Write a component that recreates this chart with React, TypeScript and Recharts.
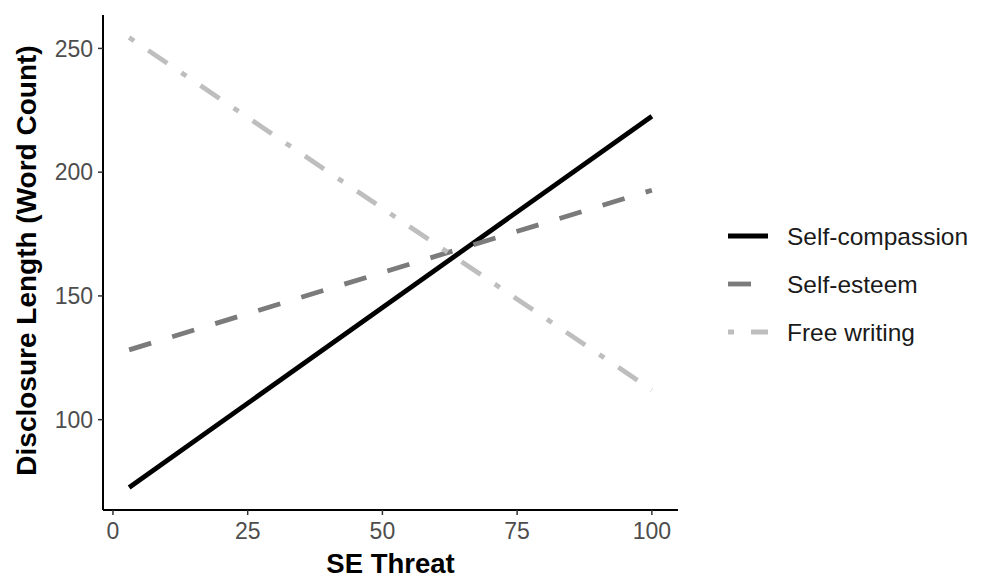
import React from "react";
import { LineChart, Line, XAxis, YAxis, Legend, Label } from "recharts";

const threat = [3, 100];
const selfCompassion = [72.6, 222.6];
const selfEsteem = [128.2, 192.7];
const freeWriting = [254.4, 112];
const xTicks = [0, 25, 50, 75, 100];
const yTicks = [100, 150, 200, 250];

const seriesNames = ["Self-compassion", "Self-esteem", "Free writing"];
const seriesKeys = ["sc", "se", "fw"];
const seriesColors = ["#000000", "#7b7b7b", "#bebebe"];
const seriesDash = ["", "23 22", "6 17 23 17"];

const data = threat.map((x, i) => ({
  x,
  sc: selfCompassion[i],
  se: selfEsteem[i],
  fw: freeWriting[i],
}));

const FONT = '"Liberation Sans", Arial, Helvetica, sans-serif';

const LegendContent = () => (
  <svg width={262} height={150} style={{ display: "block" }}>
    {seriesNames.map((name, i) => {
      const cy = 26 + i * 48;
      return (
        <g key={name}>
          <line
            x1={8}
            x2={48}
            y1={cy}
            y2={cy}
            stroke={seriesColors[i]}
            strokeWidth={4.8}
            strokeDasharray={seriesDash[i] || undefined}
            strokeLinecap="butt"
          />
          <text
            x={67}
            y={cy}
            dominantBaseline="central"
            fontFamily={FONT}
            fontSize={24.5}
            fill="#1a1a1a"
          >
            {name}
          </text>
        </g>
      );
    })}
  </svg>
);

const YTitle = (props: any) => {
  const vb = props.viewBox || {};
  const cx = 28;
  const cy = vb.y + vb.height / 2 - 2;
  return (
    <text
      x={cx}
      y={cy}
      transform={`rotate(-90, ${cx}, ${cy})`}
      textAnchor="middle"
      fontFamily={FONT}
      fontWeight="bold"
      fontSize={28}
      fill="#000"
    >
      Disclosure Length (Word Count)
    </text>
  );
};

const XTitle = (props: any) => {
  const vb = props.viewBox || {};
  const cx = vb.x + vb.width / 2;
  return (
    <text
      x={cx}
      y={565}
      textAnchor="middle"
      fontFamily={FONT}
      fontWeight="bold"
      fontSize={27.5}
      fill="#000"
    >
      SE Threat
    </text>
  );
};

export default function App() {
  return (
    <div style={{ width: 974, height: 571, fontFamily: FONT }}>
      <LineChart
        width={974}
        height={571}
        data={data}
        margin={{ top: 7, right: 42, left: 0, bottom: 0 }}
      >
        <XAxis
          type="number"
          dataKey="x"
          domain={[-1.85, 104.85]}
          allowDataOverflow
          ticks={xTicks}
          height={69}
          tickSize={5}
          tickMargin={8}
          axisLine={{ stroke: "#000", strokeWidth: 2 }}
          tickLine={{ stroke: "#333", strokeWidth: 1.5 }}
          tick={{ fill: "#4d4d4d", fontSize: 23, fontFamily: FONT }}
        >
          <Label content={<XTitle />} />
        </XAxis>
        <YAxis
          type="number"
          domain={[63.5, 263.5]}
          allowDataOverflow
          ticks={yTicks}
          width={95}
          tickSize={5}
          tickMargin={5}
          axisLine={{ stroke: "#000", strokeWidth: 2 }}
          tickLine={{ stroke: "#333", strokeWidth: 1.5 }}
          tick={{ fill: "#4d4d4d", fontSize: 23, fontFamily: FONT }}
        >
          <Label content={<YTitle />} />
        </YAxis>
        {seriesKeys.map((k, i) => (
          <Line
            key={k}
            type="linear"
            dataKey={k}
            name={seriesNames[i]}
            stroke={seriesColors[i]}
            strokeWidth={4.8}
            strokeDasharray={seriesDash[i] || undefined}
            strokeLinecap="butt"
            dot={false}
            activeDot={false}
            isAnimationActive={false}
          />
        ))}
        <Legend
          layout="horizontal"
          verticalAlign="middle"
          align="right"
          content={<LegendContent />}
          wrapperStyle={{ left: 712, top: 202, width: 262, height: 150 }}
        />
      </LineChart>
    </div>
  );
}
